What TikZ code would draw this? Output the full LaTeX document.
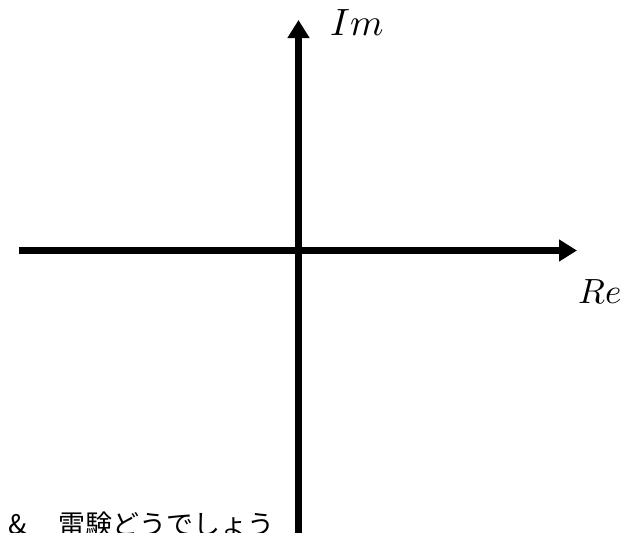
\documentclass[tikz,border=0pt]{standalone}
\usepackage{fontspec}
\usepackage{unicode-math}
\setmathfont{Latin Modern Math}
\newfontfamily\cjk{Noto Sans CJK JP}
\usetikzlibrary{arrows.meta}
\begin{document}
\begin{tikzpicture}[x=1pt,y=-1pt,
  axis/.style={line width=6.5pt,-{Triangle[length=18pt,width=21pt]}},
  lbl/.style={inner sep=0pt,anchor=base west}]
\useasboundingbox (0,0) rectangle (627,533);
\clip (0,0) rectangle (627,533);
\coordinate (xs) at (18.5,250.5);
\coordinate (xe) at (577,250.5);
\coordinate (ys) at (298.5,540);
\coordinate (ye) at (298.5,20);
\draw[axis] (xs) -- (xe);
\draw[axis] (ys) -- (ye);
\node[lbl] (im) at (330,35) {\fontsize{38}{38}\selectfont$Im$};
\node[lbl] (re) at (578,303) {\fontsize{35}{35}\selectfont$Re$};
\node[lbl] (amp) at (8,534) {\cjk\fontsize{27}{27}\selectfont\&};
\node[lbl] (jp) at (58,534) {\cjk\fontsize{27}{27}\selectfont 雷験どうでしょう};
\end{tikzpicture}
\end{document}
